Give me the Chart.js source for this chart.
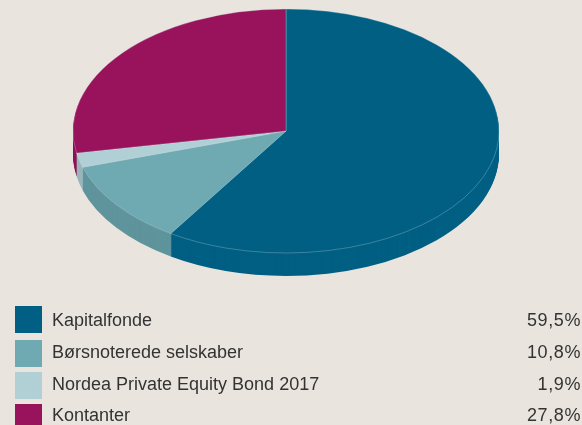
<!DOCTYPE html>
<html>
<head>
<meta charset="utf-8">
<script src="https://cdn.jsdelivr.net/npm/chart.js@4"></script>
<style>
html, body { margin: 0; padding: 0; background: #e9e5de; width: 582px; height: 425px; overflow: hidden; }
#pie { position: absolute; left: 0; top: 0; }
.swatch { position: absolute; left: 15px; width: 27px; height: 27px; }
.label, .pct { position: absolute; font: 18px "Liberation Sans", Arial, sans-serif; color: #333; line-height: 24px; white-space: nowrap; }
.label { left: 52px; }
.pct { right: 1px; letter-spacing: 0.6px; }
</style>
</head>
<body>
<canvas id="pie" width="582" height="425"></canvas>
<div id="legend"></div>
<script>
const categories = ['Kapitalfonde', 'Børsnoterede selskaber', 'Nordea Private Equity Bond 2017', 'Kontanter'];
// printed in the legend
const shares = [59.5, 10.8, 1.9, 27.8];
// slice sizes as measured on the picture, they differ a little from the printed ones
const sliceShares = [59.1, 11.1, 1.9, 27.9];
const topColors = ['#005f83', '#6fa9b2', '#b1d0d6', '#98125c'];
const sideColors = ['#005f83', '#5f949c', '#9ab5bc', '#8f1158'];
const swatchTops = [306, 340, 372, 404];
const textTops = [308, 340, 372, 403];

const squash = 122 / 213;
const depth = 23;

// tilts the pie and paints the rim below it, layer by layer
const tilt = {
  id: 'tilt',
  beforeDatasetsDraw(chart) {
    const ctx = chart.ctx;
    const arcs = chart.getDatasetMeta(0).data;
    const cy = arcs[0].y;
    ctx.save();
    for (let d = depth; d > 0; d--) {
      ctx.save();
      ctx.translate(0, cy + d);
      ctx.scale(1, squash);
      ctx.translate(0, -cy);
      arcs.forEach((a, i) => {
        ctx.beginPath();
        ctx.moveTo(a.x, a.y);
        ctx.arc(a.x, a.y, a.outerRadius, a.startAngle, a.endAngle);
        ctx.closePath();
        ctx.fillStyle = sideColors[i];
        ctx.fill();
      });
      ctx.restore();
    }
    ctx.translate(0, cy);
    ctx.scale(1, squash);
    ctx.translate(0, -cy);
  },
  afterDatasetsDraw(chart) {
    chart.ctx.restore();
  }
};

new Chart(document.getElementById('pie'), {
  type: 'pie',
  plugins: [tilt],
  data: {
    labels: categories,
    datasets: [{
      data: sliceShares,
      backgroundColor: topColors,
      borderColor: 'rgba(205,225,230,0.45)',
      borderWidth: 0.8,
      clip: false
    }]
  },
  options: {
    responsive: false,
    animation: false,
    radius: 213,
    layout: { padding: { top: 0, left: 0, right: 10, bottom: 163 } },
    plugins: { legend: { display: false }, tooltip: { enabled: false } },
    events: []
  }
});

const legend = document.getElementById('legend');
categories.forEach((name, i) => {
  legend.insertAdjacentHTML('beforeend',
    `<div class="swatch" style="top:${swatchTops[i]}px;background:${topColors[i]}"></div>` +
    `<div class="label" style="top:${textTops[i]}px">${name}</div>` +
    `<div class="pct" style="top:${textTops[i]}px">${shares[i].toFixed(1).replace('.', ',')}%</div>`);
});
</script>
</body>
</html>
